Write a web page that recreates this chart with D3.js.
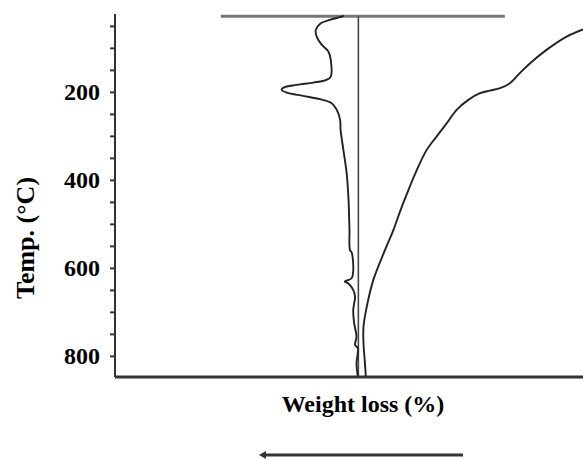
<!DOCTYPE html>
<html>
<head>
<meta charset="utf-8">
<script src="https://cdn.jsdelivr.net/npm/d3@7"></script>
<style>
  body { margin: 0; background: #fff; }
  text { font-family: "Liberation Serif", "Times New Roman", serif; font-weight: bold; }
</style>
</head>
<body>
<div id="chart"></div>
<script>
//Temperature ticks
var tickValues = [50, 100, 150, 200, 250, 300, 350, 400, 450, 500, 550, 600, 650, 700, 750, 800];
var tickLabels = [200, 400, 600, 800];

//DTA curve (left trace): temperature and relative position
var dtaTemp = [26.6, 28.9, 36.4, 45.5, 59.1, 74.3, 93.2, 108.4, 127.3, 165.2, 172.7, 178.9, 184.1, 190.2, 195.5, 201.6, 209.1, 216.6, 225.7, 240.9, 263.6, 286.4, 331.8, 384.8, 445.5, 513.6, 559.1, 565.9, 622.7, 631.1, 634.8, 650, 665.2, 695.5, 725.7, 756.1, 775, 782.5, 816.6, 847];
var dtaValue = [48.9, 48.4, 45.9, 43.8, 42.9, 43.1, 44.2, 45.6, 46.1, 46.1, 45.2, 42.4, 38.8, 36.0, 35.6, 36.7, 40.2, 43.8, 46.3, 47.4, 48.1, 48.2, 48.8, 49.5, 49.9, 50.1, 50.2, 50.6, 50.6, 49.1, 49.8, 50.9, 51.3, 50.9, 51.1, 51.6, 51.3, 51.9, 51.6, 51.9];

//TG curve (right trace)
var tgTemp = [58, 74.3, 104.5, 134.8, 157.5, 180.2, 191.6, 197, 203, 218.2, 240.9, 271.1, 301.6, 331.8, 377.3, 441.6, 472, 513.6, 559.1, 627.3, 688, 733.4, 771.1, 815.9, 847];
var tgValue = [100, 96.5, 92.2, 88.7, 86.5, 84.4, 82.3, 80.1, 78.0, 75.5, 73.0, 70.9, 68.7, 66.6, 64.5, 62.0, 60.9, 59.5, 57.7, 55.2, 53.8, 53.1, 53.1, 53.4, 53.6];

//Reference lines
var baseTemp = 28;
var baseStart = 22.6, baseEnd = 83.3;
var zeroValue = 52.0;

//Set margins and sizes
var margin = { top: 14, right: 0, bottom: 82, left: 115 };
var width = 583 - margin.left - margin.right;
var height = 459 - margin.top - margin.bottom;

var svg = d3.select("#chart").append("svg")
  .attr("width", 583)
  .attr("height", 459)
  .append("g")
  .attr("transform", "translate(" + margin.left + "," + margin.top + ")");

var x = d3.scaleLinear().domain([0, 100]).range([0, width]);
var y = d3.scaleLinear().domain([23, 848]).range([0, height]);

//Y axis with minor ticks, labels only every 200
var yAxis = d3.axisLeft(y)
  .tickValues(tickValues)
  .tickSize(5)
  .tickPadding(10)
  .tickFormat(function(d) { return tickLabels.indexOf(d) >= 0 ? d : ""; });

var gy = svg.append("g").call(yAxis);
gy.select(".domain").remove();
gy.selectAll(".tick line").attr("stroke", "#333").attr("stroke-width", 2);
gy.selectAll(".tick text")
  .attr("fill", "#000")
  .style("font-size", "24px")
  .style("font-family", "'Liberation Serif', 'Times New Roman', serif")
  .style("font-weight", "bold");

//Axis lines
svg.append("line")
  .attr("x1", 0).attr("x2", 0)
  .attr("y1", 0).attr("y2", height)
  .attr("stroke", "#333").attr("stroke-width", 2);
svg.append("line")
  .attr("x1", 0).attr("x2", width)
  .attr("y1", height).attr("y2", height)
  .attr("stroke", "#333").attr("stroke-width", 3);

//Baseline (gray) and vertical reference
svg.append("line")
  .attr("x1", x(baseStart)).attr("x2", x(baseEnd))
  .attr("y1", y(baseTemp)).attr("y2", y(baseTemp))
  .attr("stroke", "#777").attr("stroke-width", 3);
svg.append("line")
  .attr("x1", x(zeroValue)).attr("x2", x(zeroValue))
  .attr("y1", y(baseTemp)).attr("y2", height)
  .attr("stroke", "#444").attr("stroke-width", 1.6);

//Curves
var line = d3.line()
  .x(function(d) { return x(d[1]); })
  .y(function(d) { return y(d[0]); })
  .curve(d3.curveCatmullRom);

svg.append("path")
  .datum(d3.zip(dtaTemp, dtaValue))
  .attr("d", line)
  .attr("fill", "none")
  .attr("stroke", "#222")
  .attr("stroke-width", 1.9);

svg.append("path")
  .datum(d3.zip(tgTemp, tgValue))
  .attr("d", line)
  .attr("fill", "none")
  .attr("stroke", "#222")
  .attr("stroke-width", 1.9);

//Axis titles
svg.append("text")
  .attr("transform", "translate(" + (34 - margin.left) + "," + (238 - margin.top) + ") rotate(-90)")
  .attr("text-anchor", "middle")
  .style("font-size", "26px")
  .text("Temp. (\u00B0C)");

svg.append("text")
  .attr("x", 363 - margin.left)
  .attr("y", 412 - margin.top)
  .attr("text-anchor", "middle")
  .style("font-size", "24px")
  .text("Weight loss (%)");

//Arrow pointing left
var ay = 455 - margin.top;
svg.append("line")
  .attr("x1", 263 - margin.left).attr("x2", 463 - margin.left)
  .attr("y1", ay).attr("y2", ay)
  .attr("stroke", "#333").attr("stroke-width", 3);
svg.append("path")
  .attr("d", "M" + (259 - margin.left) + "," + ay + "L" + (266 - margin.left) + "," + (ay - 4) + "L" + (266 - margin.left) + "," + (ay + 4) + "Z")
  .attr("fill", "#333");
</script>
</body>
</html>
